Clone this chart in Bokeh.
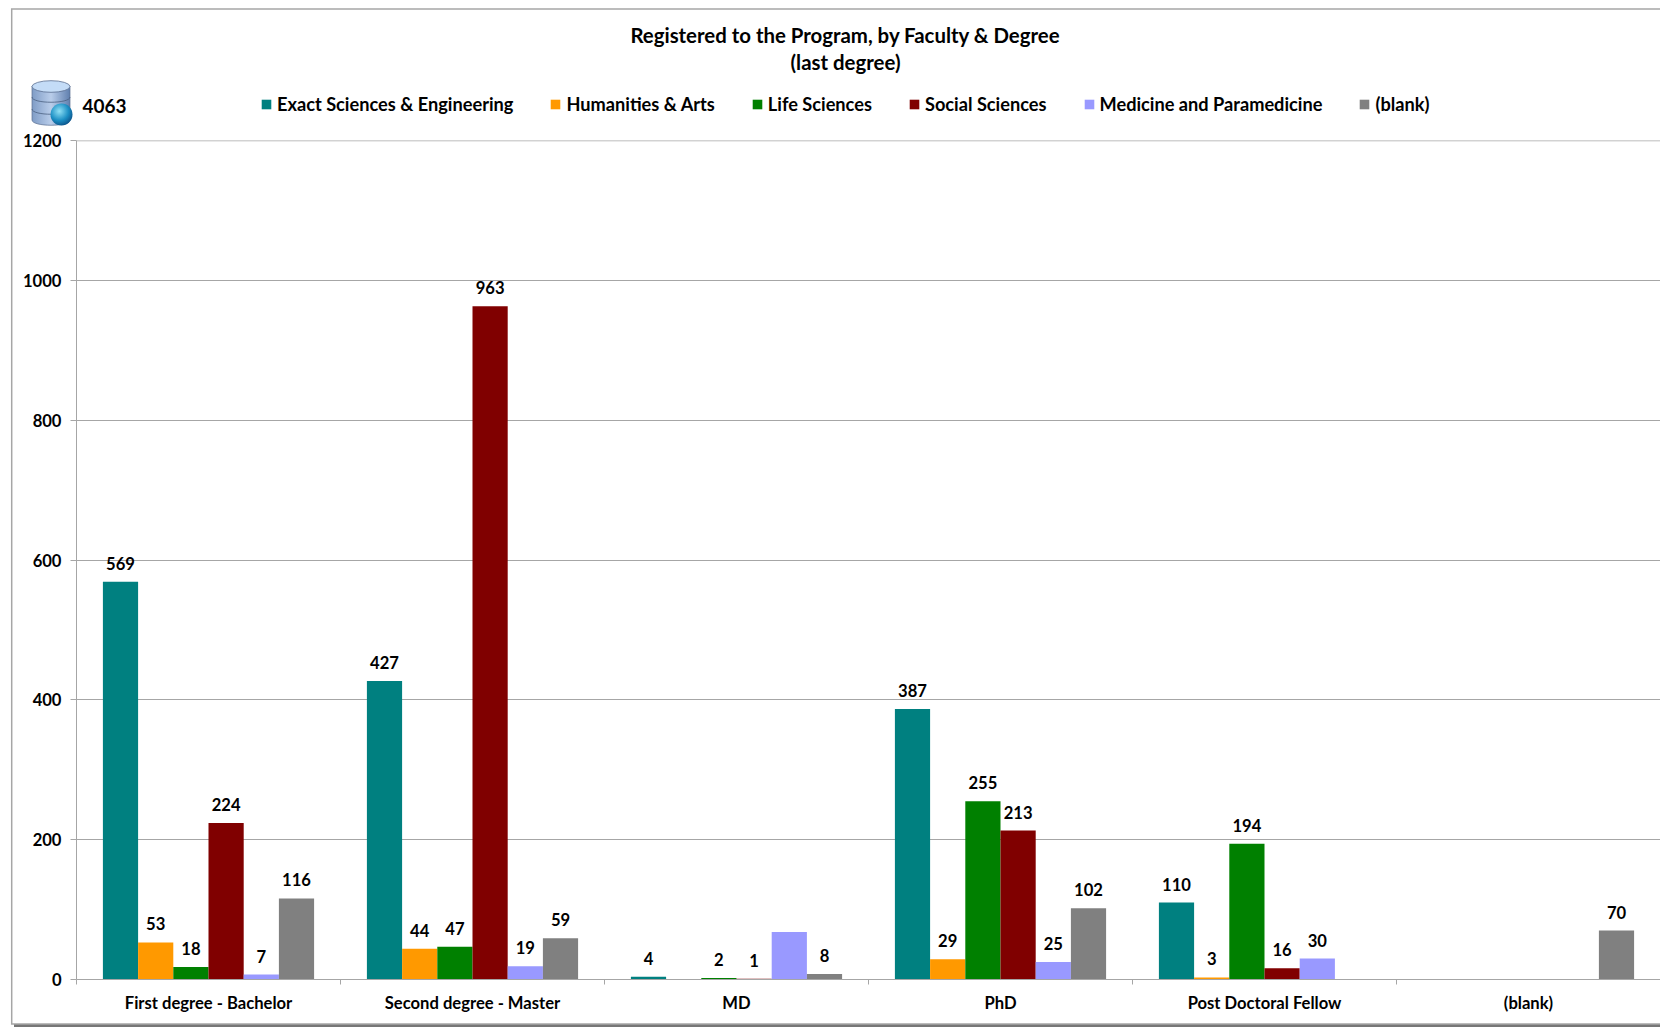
from urllib.parse import quote
from bokeh.plotting import figure
from bokeh.layouts import column
from bokeh.embed import file_html
from bokeh.resources import INLINE
from bokeh.core.properties import value
from bokeh.models import (ColumnDataSource, FixedTicker, Label, Legend, LegendItem, LinearAxis, Range1d, Span)

TITLE_1 = "Registered to the Program, by Faculty & Degree"
TITLE_2 = "(last degree)"
TOTAL = "4063"

categories = ["First degree - Bachelor", "Second degree - Master", "MD", "PhD", "Post Doctoral Fellow", "(blank)"]
exact = [569, 427, 4, 387, 110, None]
humanities = [53, 44, None, 29, 3, None]
life = [18, 47, 2, 255, 194, None]
social = [224, 963, 1, 213, 16, None]
medicine = [7, 19, 68, 25, 30, None]
blank = [116, 59, 8, 102, None, 70]
unlabelled = {("Medicine and Paramedicine", "MD")}
y_ticks = [0, 200, 400, 600, 800, 1000, 1200]

series = [
    ("Exact Sciences & Engineering", exact, "#008080"),
    ("Humanities & Arts", humanities, "#FF9900"),
    ("Life Sciences", life, "#008000"),
    ("Social Sciences", social, "#800000"),
    ("Medicine and Paramedicine", medicine, "#9999FF"),
    ("(blank)", blank, "#808080"),
]

FONT = "Lato"
AXIS = "#a6a6a6"
SIZE = "16.6px"
HEADER_H = 128

# page backdrop: chart-area frame, its shadow, and the database icon
backdrop = """<svg xmlns='http://www.w3.org/2000/svg' width='1660' height='1027' viewBox='0 0 1660 1027'>
<defs><linearGradient id='a' x1='0' x2='1' y1='0' y2='0'><stop offset='0' stop-color='#7f9cc6'/><stop offset='.5' stop-color='#b9cdea'/><stop offset='1' stop-color='#5f7fae'/></linearGradient>
<radialGradient id='g' cx='.4' cy='.35' r='.7'><stop offset='0' stop-color='#8fe0f5'/><stop offset='.6' stop-color='#1c8fc4'/><stop offset='1' stop-color='#0b4f86'/></radialGradient></defs>
<rect x='14' y='1024' width='1660' height='3' fill='#777777'/>
<rect x='11.7' y='9' width='1670' height='1015' fill='none' stroke='#a6a6a6' stroke-width='1.5'/>
<g transform='translate(31 80)'>
<path d='M1 6 V40 C1 47 39 47 39 40 V6 Z' fill='url(#a)' stroke='#5a6f90' stroke-width='.7'/>
<path d='M1 17 C1 24 39 24 39 17 M1 29 C1 36 39 36 39 29' fill='none' stroke='#4a5f80' stroke-width='.8'/>
<ellipse cx='20' cy='6.5' rx='19' ry='5.8' fill='#c4dcf7' stroke='#5a6f90' stroke-width='.8'/>
<circle cx='30.5' cy='34.5' r='11' fill='url(#g)'/></g></svg>"""

n = len(categories)

# header strip: titles, total, legend
head = figure(width=1660, height=HEADER_H, output_backend="svg", toolbar_location=None,
              x_range=Range1d(0, 1), y_range=Range1d(0, 1), x_axis_location=None, y_axis_location=None,
              min_border=0, border_fill_color=None, background_fill_color=None, outline_line_color=None)
head.grid.visible = False

# main plot
p = figure(
    width=1660, height=1027 - HEADER_H, output_backend="svg", toolbar_location=None,
    x_range=Range1d(0, n), y_range=Range1d(0, 1200), x_axis_location=None,
    min_border_left=76, min_border_right=0, min_border_top=12, min_border_bottom=48,
    border_fill_color=None, background_fill_color=None, outline_line_color=None,
)

edge_axis = LinearAxis(ticker=FixedTicker(ticks=list(range(n + 1))), axis_line_color=AXIS,
                       major_tick_line_color=AXIS, major_tick_in=0, major_tick_out=5, minor_tick_line_color=None,
                       major_label_text_color=None, major_label_text_font_size="1px", major_label_standoff=0)
p.add_layout(edge_axis, "below")
centres = [i + 0.5 for i in range(n)]
cat_axis = LinearAxis(ticker=FixedTicker(ticks=centres), axis_line_color=None, major_tick_line_color=None,
                      minor_tick_line_color=None, major_tick_in=0, major_tick_out=0,
                      major_label_overrides=dict(zip(centres, categories)),
                      major_label_text_font=FONT, major_label_text_font_style="bold",
                      major_label_text_font_size=SIZE, major_label_text_color="#000000",
                      major_label_standoff=8)
p.add_layout(cat_axis, "below")

p.yaxis.ticker = FixedTicker(ticks=y_ticks)
p.yaxis.axis_line_color = AXIS
p.yaxis.major_tick_line_color = AXIS
p.yaxis.major_tick_in = 0
p.yaxis.major_tick_out = 6
p.yaxis.minor_tick_line_color = None
p.yaxis.major_label_text_font = FONT
p.yaxis.major_label_text_font_style = "bold"
p.yaxis.major_label_text_font_size = SIZE
p.yaxis.major_label_text_color = "#000000"
p.yaxis.major_label_standoff = 9
p.ygrid.ticker = FixedTicker(ticks=y_ticks)
p.ygrid.grid_line_color = AXIS
p.ygrid.grid_line_width = 1
p.xgrid.visible = False
p.add_layout(Span(location=y_ticks[-1], dimension="width", line_color=AXIS, line_width=1.5))

items = []
bar_w = 0.8 / len(series)
for i, (name, vals, color) in enumerate(series):
    off = 0.5 + (i - (len(series) - 1) / 2) * bar_w
    idx = [j for j, v in enumerate(vals) if v is not None]
    src = ColumnDataSource(dict(x=[j + off for j in idx], y=[vals[j] for j in idx]))
    p.vbar(x="x", top="y", bottom=0, width=bar_w, source=src, fill_color=color, line_color=None)
    # legend key only: the header's x range is 0..1, so this bar lies outside the strip
    key = head.vbar(x="x", top="y", bottom=0, width=0.1, source=ColumnDataSource(dict(x=[n], y=[0])),
                    fill_color=color, line_color=None)
    items.append(LegendItem(label=name, renderers=[key]))
    lab = [j for j in idx if (name, categories[j]) not in unlabelled]
    tsrc = ColumnDataSource(dict(x=[j + off for j in lab], y=[vals[j] for j in lab], t=[str(vals[j]) for j in lab]))
    p.text(x="x", y="y", text="t", source=tsrc,
           text_align="center", text_baseline="bottom", y_offset=-12,
           text_font=value(FONT), text_font_style="bold", text_font_size=SIZE, text_color="#000000")

legend = Legend(items=items, orientation="horizontal", location=(184, 13), spacing=36, padding=0, margin=0,
                glyph_width=12, glyph_height=12, label_standoff=5, label_height=16,
                label_text_font=FONT, label_text_font_style="bold", label_text_font_size="18.2px",
                label_text_color="#000000", background_fill_alpha=0, border_line_color=None)
head.add_layout(legend, "center")

for txt, y in ((TITLE_1, 94), (TITLE_2, 67)):
    head.add_layout(Label(x=769, y=y, x_units="screen", y_units="screen", text=txt, text_align="center",
                          text_baseline="middle", text_font=FONT, text_font_style="bold", text_font_size="20.4px",
                          text_color="#000000"))
head.add_layout(Label(x=6, y=23, x_units="screen", y_units="screen", text=TOTAL, text_align="left",
                      text_baseline="middle", text_font=FONT, text_font_style="bold", text_font_size="19px",
                      text_color="#000000"))

page = column(head, p, spacing=0, styles={
    "background-image": "url(\"data:image/svg+xml," + quote(backdrop) + "\")",
    "background-repeat": "no-repeat",
})
open("out.html", "w").write(file_html(page, INLINE))
